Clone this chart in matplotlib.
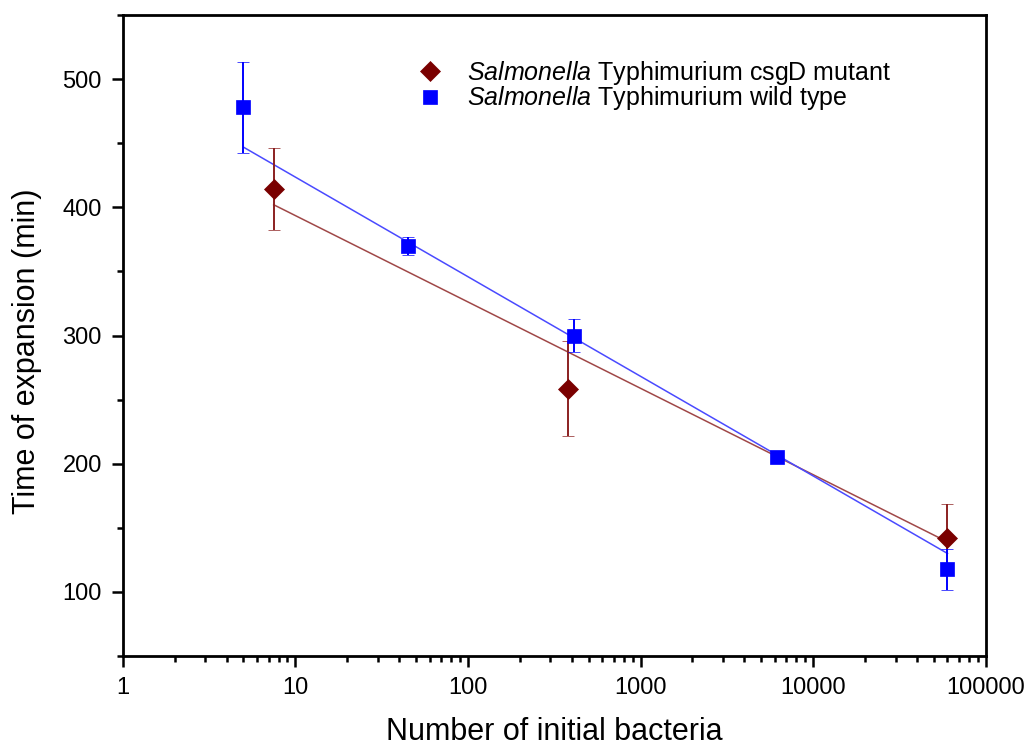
import numpy as np
import matplotlib
matplotlib.use("Agg")
import matplotlib.pyplot as plt
from matplotlib.lines import Line2D
from matplotlib.ticker import FixedLocator, LogLocator, NullFormatter, FixedFormatter

plt.rcParams['font.family'] = ['Liberation Sans', 'DejaVu Sans']
plt.rcParams['mathtext.fontset'] = 'custom'
plt.rcParams['mathtext.it'] = 'Liberation Sans:italic'
plt.rcParams['mathtext.rm'] = 'Liberation Sans'

# csgD mutant
mut_x = [7.5, 382, 60000]
mut_y = [414.6, 258.4, 142.4]
mut_err = [32, 37, 26]
# wild type
wt_x = [5, 45, 412, 6200, 60000]
wt_y = [478, 369.5, 300, 205, 117.7]
wt_err = [35.5, 7, 13, 2, 16]

# fitted lines (end points)
mut_fit_x = [7.5, 60000]
mut_fit_y = [402, 139]
wt_fit_x = [5, 60000]
wt_fit_y = [447, 130]

x_ticks = [1, 10, 100, 1000, 10000, 100000]
x_labels = ['1', '10', '100', '1000', '10000', '100000']
y_ticks = [100, 200, 300, 400, 500]
y_minor = [50, 150, 250, 350, 450, 550]

labels = [r'$\it{Salmonella}$ Typhimurium csgD mutant',
          r'$\it{Salmonella}$ Typhimurium wild type']

red = '#7a0000'
blue = '#0000ff'

fig = plt.figure(figsize=(10.29, 7.47), dpi=100)
ax = fig.add_axes([0.1192, 0.1218, 0.8388, 0.8581])

ax.plot(mut_fit_x, mut_fit_y, color='#a04848', lw=1.1, zorder=2)
ax.plot(wt_fit_x, wt_fit_y, color='#4a4aff', lw=1.1, zorder=2)

ax.errorbar(mut_x, mut_y, yerr=mut_err, fmt='D', color=red, ecolor='#8b2020',
            ms=10, mec=red, mew=0.5, elinewidth=1.4, capsize=4.5, capthick=1.4,
            zorder=3)
ax.errorbar(wt_x, wt_y, yerr=wt_err, fmt='s', color=blue, ecolor=blue,
            ms=9.5, mec=blue, mew=0.5, elinewidth=1.4, capsize=4.5, capthick=1.4,
            zorder=4)

ax.set_xscale('log')
ax.set_xlim(1, 100000)
ax.set_ylim(50, 550)
ax.xaxis.set_major_locator(FixedLocator(x_ticks))
ax.xaxis.set_major_formatter(FixedFormatter(x_labels))
ax.xaxis.set_minor_locator(LogLocator(base=10, subs=np.arange(2, 10)))
ax.xaxis.set_minor_formatter(NullFormatter())
ax.yaxis.set_major_locator(FixedLocator(y_ticks))
ax.yaxis.set_minor_locator(FixedLocator(y_minor))

ax.tick_params(which='major', direction='out', length=8, width=1.8, labelsize=17, pad=7)
ax.tick_params(which='minor', direction='out', length=4, width=1.8)
for s in ax.spines.values():
    s.set_linewidth(2)

ax.set_xlabel('Number of initial bacteria', fontsize=22, labelpad=13)
ax.set_ylabel('Time of expansion (min)', fontsize=22)
ax.yaxis.set_label_coords(-0.093, 0.475)

handles = [Line2D([], [], ls='none', marker='D', ms=10, color=red, mec=red, mew=0.5),
           Line2D([], [], ls='none', marker='s', ms=9.5, color=blue, mec=blue, mew=0.5)]
ax.legend(handles, labels, loc='upper left', bbox_to_anchor=(0.3296, 0.947), frameon=False,
          fontsize=18, handlelength=1.0, handletextpad=0.98, labelspacing=-0.1,
          borderaxespad=0)

fig.savefig('out.png', dpi=100)
